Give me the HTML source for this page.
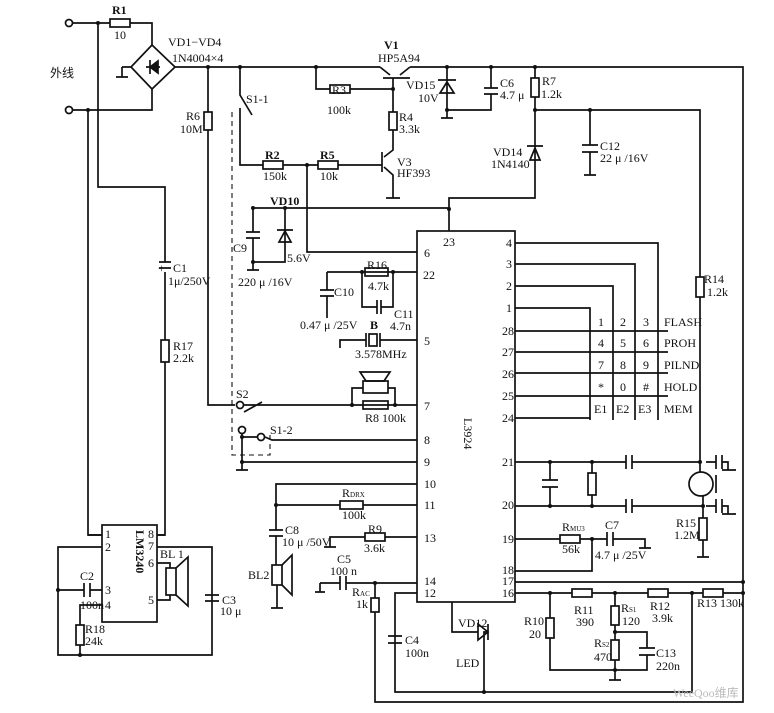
<!DOCTYPE html>
<html><head><meta charset="utf-8"><style>
html,body{margin:0;padding:0;background:#fff;}
svg{display:block;}
text{font-family:"Liberation Serif","WenQuanYi Zen Hei",serif;font-size:12px;fill:#111;}
</style></head><body>
<svg width="774" height="713" viewBox="0 0 774 713" xmlns="http://www.w3.org/2000/svg">
<g stroke="#111" stroke-width="1.7" fill="none">
<!-- input -->
<circle cx="69" cy="23" r="3.5" fill="#fff"/><circle cx="69" cy="110" r="3.5" fill="#fff"/>
<path d="M73 23H110M130 23H152V45M73 110H152V89"/>
<rect x="110" y="19" width="20" height="8"/>
<path d="M152 45L175 67L152 89L131 67Z"/>
<path d="M131 67H122M116 77H128M122 67V77"/>
<path d="M146 67H160M150 60V74M150 67L158 61V73Z" fill="#111"/>
<path d="M98 23V187H165V262M165 272V340"/><path d="M159 262H171M159 268H171"/>
<rect x="161" y="340" width="8" height="22"/><path d="M165 362V535H157"/>
<path d="M88 110V535H102"/>
<!-- top rail -->
<path d="M175 67H380M410 67H743V593"/>
<path d="M208 67V112M208 130V405H235"/><rect x="204" y="112" width="8" height="18"/>
<path d="M240 67V95L252 115M240 108V165H263M283 165H318M338 165H382"/>
<rect x="263" y="161" width="20" height="8"/><rect x="318" y="161" width="20" height="8"/>
<path d="M307 165V252H417"/>
<path d="M232 112V455H270V435" stroke-dasharray="5 4" stroke-width="1.1"/>
<!-- V1 -->
<path d="M380 67L390 75M410 67L400 75M383 78H410M393 78V112M316 67V89H330M350 89H393"/>
<rect x="330" y="85" width="20" height="8"/><rect x="389" y="112" width="8" height="18"/>
<path d="M393 130V150L384 157M382 152V172M384 167L393 175V198M386 198H400"/>
<!-- VD15 C6 R7 -->
<path d="M447 67V110M438 80H456M440 93H454L447 82Z"/><path d="M441 118H453M447 110V118M447 110H491V94M491 67V88M484 88H498M484 94H498"/>
<path d="M535 67V78M535 97V110H700V277M700 297V472"/><rect x="531" y="78" width="8" height="19"/>
<path d="M535 110V198H449V231M527 146H543M530 160H540L535 148Z"/>
<path d="M590 110V145M590 152V175M582 145H598M582 152H598M584 175H596"/>
<rect x="696" y="277" width="8" height="20"/>
<!-- VD10/C9 -->
<path d="M252 208H449M253 208V232M253 238V262H285V208M246 232H260M246 238H260M253 262V270M247 270H259"/>
<path d="M277 230H293M279 242H291L285 231Z"/>
<!-- IC -->
<rect x="417" y="231" width="98" height="371"/>
<!-- pin22 -->
<path d="M327 272H417M327 272V290M320 290H334M320 296H334M327 296V318M362 272V307H377M381 307H393V272"/>
<path d="M377 300V314M381 300V314"/><rect x="365" y="268" width="23" height="8"/>
<!-- crystal -->
<path d="M340 348V340H366M380 340H417M366 333V347M380 333V347"/><rect x="369" y="334" width="8" height="12"/>
<!-- speaker/R8 -->
<path d="M352 405V388H363M388 388H395V405M360 372L390 372L384 381H366Z"/><rect x="363" y="381" width="25" height="12"/>
<path d="M244 405H417M244 412L262 402"/><rect x="363" y="401" width="25" height="8"/>
<circle cx="240" cy="405" r="3.5" fill="#fff"/>
<circle cx="242" cy="430" r="3.5" fill="#fff"/><circle cx="261" cy="437" r="3.5" fill="#fff"/>
<path d="M265 437L272 440H417M242 434V462H417M242 437H257M242 462V470M236 470H248"/>
<!-- right pins to keypad -->
<path d="M515 243H658V420M515 264H635V420M515 286H613V420M515 308H590V420"/>
<path d="M515 331H668M515 352H668M515 373H668M515 396H668M515 418H590"/>
<path d="M515 462H626M632 462H700M706 462H716M722 462H728V470M722 470H736"/>
<path d="M515 506H626M632 506H703M706 506H716M722 506H728V514M722 514H736"/>
<path d="M626 455V469M632 455V469M626 499V513M632 499V513M716 455V469M722 455V469M716 499V513M722 499V513"/>
<path d="M550 462V480M550 487V506M542 480H558M542 487H558M592 462V473M592 495V506"/><rect x="588" y="473" width="8" height="22"/>
<circle cx="701" cy="484" r="12"/><path d="M716 475V493"/>
<path d="M703 496V518M703 540V557M697 557H709"/><rect x="699" y="518" width="8" height="22"/>
<path d="M515 539H560M580 539H607M613 539H645V548M639 548H651M607 532V546M613 532V546M592 539V571H515"/><rect x="560" y="535" width="20" height="8"/>
<!-- bottom -->
<path d="M515 582H743M515 593H572M592 593H648M668 593H703M723 593H743"/>
<rect x="572" y="589" width="20" height="8"/><rect x="648" y="589" width="20" height="8"/><rect x="703" y="589" width="20" height="8"/>
<path d="M550 593V618M550 638V670H647V655M647 648V632H615M615 593V606M615 625V640M615 660V670V680M609 680H621M639 648H655M639 655H655"/>
<rect x="546" y="618" width="8" height="20"/><rect x="611" y="606" width="8" height="19"/><rect x="611" y="640" width="8" height="20"/>
<path d="M692 593V692H395V593H417M395 593V636M388 636H402M388 643H402M395 643V692"/>
<path d="M452 602V632H478M488 632H484V692M478 624V640L488 632Z M488 624V640"/>
<path d="M375 583V598M375 612V702H743V593"/><rect x="371" y="598" width="8" height="14"/>
<path d="M320 583H340M346 583H417M320 583V592M315 592H325M340 576V590M346 576V590"/>
<!-- pins 10 11 13 -->
<path d="M417 484H276V530M276 536V565M276 505H340M363 505H417M269 530H283M269 536H283"/><rect x="340" y="501" width="23" height="8"/>
<path d="M330 547V537H365M385 537H417M324 547H336"/><rect x="365" y="533" width="20" height="8"/>
<rect x="272" y="565" width="10" height="20"/><path d="M282 565L292 555V595L282 585M277 585V608M271 608H283"/>
<!-- LM3240 -->
<rect x="102" y="525" width="55" height="97"/>
<path d="M102 535H88M157 535H165M102 547H58V655H212V547H157M157 563H170V568M157 600H170V595"/>
<rect x="166" y="568" width="10" height="27"/><path d="M176 568L188 557V606L176 595"/>
<path d="M58 590H84M90 590H102M84 583V597M90 583V597M102 605H80V625M80 645V655"/><rect x="76" y="625" width="8" height="20"/>
<path d="M205 595H219M205 601H219"/>
</g>
<g fill="#111">
<circle cx="98" cy="23" r="2"/><circle cx="88" cy="110" r="2"/><circle cx="208" cy="67" r="2"/><circle cx="240" cy="67" r="2"/>
<circle cx="316" cy="67" r="2"/><circle cx="447" cy="67" r="2"/><circle cx="491" cy="67" r="2"/><circle cx="535" cy="67" r="2"/>
<circle cx="393" cy="89" r="2"/><circle cx="447" cy="110" r="2"/><circle cx="535" cy="110" r="2"/><circle cx="590" cy="110" r="2"/>
<circle cx="307" cy="165" r="2"/><circle cx="449" cy="209" r="2"/><circle cx="253" cy="208" r="2"/><circle cx="285" cy="208" r="2"/><circle cx="253" cy="262" r="2"/>
<circle cx="362" cy="272" r="2"/><circle cx="393" cy="272" r="2"/><circle cx="352" cy="405" r="2"/><circle cx="395" cy="405" r="2"/>
<circle cx="242" cy="437" r="2"/><circle cx="242" cy="462" r="2"/><circle cx="550" cy="462" r="2"/><circle cx="592" cy="462" r="2"/>
<circle cx="550" cy="506" r="2"/><circle cx="592" cy="506" r="2"/><circle cx="700" cy="462" r="2"/><circle cx="703" cy="506" r="2"/>
<circle cx="592" cy="539" r="2"/><circle cx="743" cy="582" r="2"/><circle cx="743" cy="593" r="2"/><circle cx="550" cy="593" r="2"/>
<circle cx="615" cy="593" r="2"/><circle cx="692" cy="593" r="2"/><circle cx="615" cy="632" r="2"/><circle cx="615" cy="670" r="2"/>
<circle cx="484" cy="692" r="2"/><circle cx="375" cy="583" r="2"/><circle cx="276" cy="505" r="2"/><circle cx="58" cy="590" r="2"/><circle cx="80" cy="655" r="2"/>
</g>
<text x="112" y="14" font-weight="bold">R1</text><text x="114" y="39">10</text>
<text x="168" y="46">VD1−VD4</text><text x="172" y="62">1N4004×4</text>
<text x="50" y="77">外线</text>
<text x="186" y="120">R6</text><text x="180" y="133">10M</text>
<text x="246" y="103">S1-1</text>
<text x="265" y="159" font-weight="bold">R2</text><text x="263" y="180">150k</text>
<text x="320" y="159" font-weight="bold">R5</text><text x="320" y="180">10k</text>
<text x="332" y="94">R3</text><text x="327" y="114">100k</text>
<text x="384" y="49" font-weight="bold">V1</text><text x="378" y="62">HP5A94</text>
<text x="399" y="121">R4</text><text x="399" y="133">3.3k</text>
<text x="397" y="166">V3</text><text x="397" y="177">HF393</text>
<text x="406" y="89">VD15</text><text x="418" y="102">10V</text>
<text x="500" y="87">C6</text><text x="500" y="99">4.7 μ</text>
<text x="542" y="85">R7</text><text x="541" y="98">1.2k</text>
<text x="493" y="156">VD14</text><text x="491" y="168">1N4140</text>
<text x="600" y="150">C12</text><text x="600" y="162">22 μ /16V</text>
<text x="270" y="205" font-weight="bold">VD10</text>
<text x="233" y="252">C9</text><text x="287" y="262">5.6V</text><text x="238" y="286">220 μ /16V</text>
<text x="367" y="269">R16</text><text x="368" y="290">4.7k</text>
<text x="334" y="296">C10</text><text x="300" y="329">0.47 μ /25V</text>
<text x="394" y="318">C11</text><text x="390" y="330">4.7n</text>
<text x="370" y="329" font-weight="bold">B</text><text x="355" y="358">3.578MHz</text>
<text x="365" y="422">R8 100k</text>
<text x="236" y="398">S2</text><text x="270" y="434">S1-2</text>
<text x="158" y="272">+</text><text x="173" y="272">C1</text><text x="168" y="285">1μ/250V</text>
<text x="173" y="350">R17</text><text x="173" y="362">2.2k</text>
<text x="704" y="283">R14</text><text x="707" y="296">1.2k</text>
<text x="443" y="246">23</text><text x="424" y="257">6</text><text x="423" y="279">22</text><text x="424" y="345">5</text>
<text x="424" y="410">7</text><text x="424" y="444">8</text><text x="424" y="466">9</text><text x="424" y="488">10</text><text x="424" y="509">11</text>
<text x="424" y="542">13</text><text x="424" y="585">14</text><text x="424" y="597">12</text>
<text x="506" y="247">4</text><text x="506" y="268">3</text><text x="506" y="290">2</text><text x="506" y="312">1</text>
<text x="502" y="335">28</text><text x="502" y="356">27</text><text x="502" y="378">26</text><text x="502" y="400">25</text><text x="502" y="422">24</text>
<text x="502" y="466">21</text><text x="502" y="509">20</text><text x="502" y="543">19</text><text x="502" y="574">18</text><text x="502" y="585">17</text><text x="502" y="597">16</text>
<text transform="translate(464 418) rotate(90)" font-size="14">L3924</text>
<text x="598" y="326">1</text><text x="620" y="326">2</text><text x="643" y="326">3</text>
<text x="598" y="347">4</text><text x="620" y="347">5</text><text x="643" y="347">6</text>
<text x="598" y="369">7</text><text x="620" y="369">8</text><text x="643" y="369">9</text>
<text x="598" y="391">*</text><text x="620" y="391">0</text><text x="643" y="391">#</text>
<text x="594" y="413">E1</text><text x="616" y="413">E2</text><text x="638" y="413">E3</text>
<text x="664" y="326">FLASH</text><text x="664" y="347">PROH</text><text x="664" y="369">PILND</text><text x="664" y="391">HOLD</text><text x="664" y="413">MEM</text>
<text x="562" y="531" font-size="10">R<tspan font-size="7">MU3</tspan></text><text x="562" y="553">56k</text>
<text x="605" y="529">C7</text><text x="595" y="559">4.7 μ /25V</text>
<text x="676" y="527">R15</text><text x="674" y="539">1.2M</text>
<text x="574" y="614">R11</text><text x="576" y="626">390</text>
<text x="650" y="610">R12</text><text x="652" y="622">3.9k</text>
<text x="697" y="607">R13 130k</text>
<text x="524" y="625">R10</text><text x="529" y="638">20</text>
<text x="621" y="612" font-size="10">R<tspan font-size="7">S1</tspan></text><text x="622" y="625">120</text>
<text x="594" y="647" font-size="10">R<tspan font-size="7">S2</tspan></text><text x="594" y="661">470</text>
<text x="656" y="657">C13</text><text x="656" y="670">220n</text>
<text x="458" y="627">VD12</text><text x="456" y="667">LED</text>
<text x="405" y="644">C4</text><text x="405" y="657">100n</text>
<text x="352" y="596" font-size="10">R<tspan font-size="7">AC</tspan></text><text x="356" y="608">1k</text>
<text x="337" y="563">C5</text><text x="330" y="575">100 n</text>
<text x="342" y="497" font-size="10">R<tspan font-size="7">DRX</tspan></text><text x="342" y="519">100k</text>
<text x="368" y="533">R9</text><text x="364" y="552">3.6k</text>
<text x="285" y="534">C8</text><text x="282" y="546">10 μ /50V</text>
<text x="248" y="579">BL2</text>
<text transform="translate(136 530) rotate(90)" font-size="15" font-weight="bold">LM3240</text>
<text x="105" y="538" font-size="10">1</text><text x="105" y="551" font-size="10">2</text><text x="105" y="594" font-size="10">3</text><text x="105" y="609" font-size="10">4</text>
<text x="148" y="538" font-size="10">8</text><text x="148" y="550" font-size="10">7</text><text x="148" y="567" font-size="10">6</text><text x="148" y="604" font-size="10">5</text>
<text x="160" y="558" font-size="10">BL 1</text>
<text x="80" y="580">C2</text><text x="80" y="609">100n</text>
<text x="85" y="633">R18</text><text x="85" y="645">24k</text>
<text x="222" y="604">C3</text><text x="220" y="615">10 μ</text>
<text x="673" y="697" font-size="14" style="fill:#bbb">WeeQoo维库</text>
</svg>
</body></html>
